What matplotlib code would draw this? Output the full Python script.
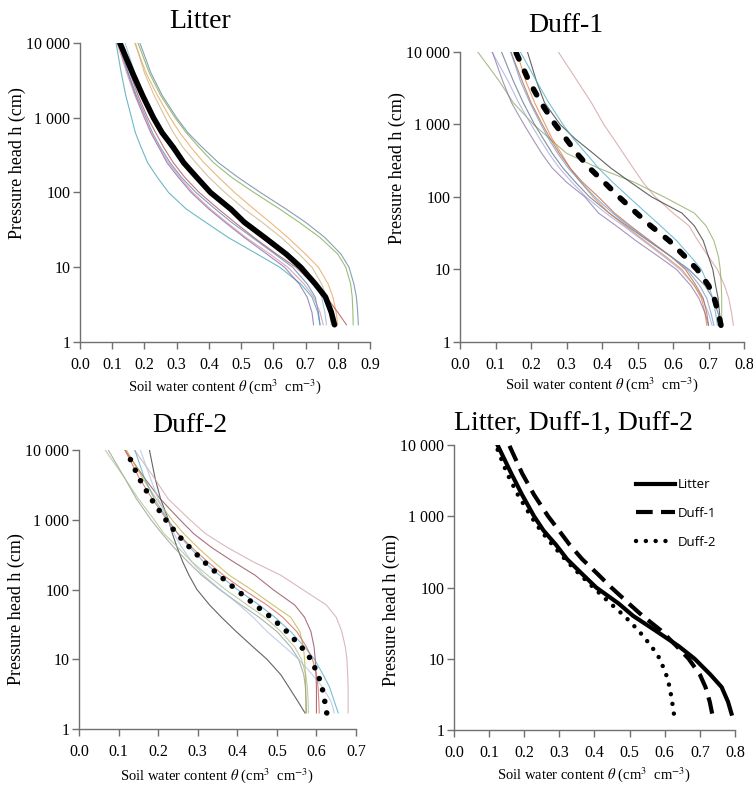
import numpy as np
import matplotlib
matplotlib.use('Agg')
import matplotlib.pyplot as plt

plt.rcParams['font.family'] = ['Liberation Serif', 'DejaVu Serif']
plt.rcParams['mathtext.fontset'] = 'stix'

h = [1.7, 2.5, 4, 6, 10, 15, 25, 40, 60, 100, 160, 250, 400, 630, 1000, 2000, 4000, 10000]

# mean curves
litter_mean = [0.79, 0.78, 0.762, 0.73, 0.685, 0.64, 0.573, 0.51, 0.468, 0.405, 0.362, 0.322,
               0.29, 0.255, 0.228, 0.194, 0.163, 0.124]
duff1_mean = [0.735, 0.728, 0.716, 0.70, 0.668, 0.634, 0.589, 0.537, 0.497, 0.448, 0.406, 0.365,
              0.329, 0.299, 0.268, 0.228, 0.194, 0.157]
duff2_mean = [0.626, 0.621, 0.614, 0.604, 0.586, 0.562, 0.525, 0.485, 0.445, 0.397, 0.354, 0.316,
              0.28, 0.247, 0.219, 0.182, 0.151, 0.119]

# individual samples, litter
litter_teal = [0.745, 0.738, 0.72, 0.685, 0.62, 0.55, 0.46, 0.39, 0.33, 0.275, 0.24, 0.21,
               0.19, 0.172, 0.16, 0.142, 0.128, 0.112]
litter_slate = [0.864, 0.862, 0.858, 0.85, 0.835, 0.81, 0.76, 0.70, 0.64, 0.56, 0.49, 0.43,
                0.38, 0.335, 0.30, 0.255, 0.22, 0.186]
litter_green = [0.848, 0.847, 0.845, 0.84, 0.825, 0.80, 0.745, 0.68, 0.62, 0.54, 0.47, 0.415,
                0.37, 0.33, 0.295, 0.25, 0.215, 0.18]
litter_orange = [0.80, 0.795, 0.785, 0.77, 0.74, 0.70, 0.645, 0.59, 0.54, 0.48, 0.43, 0.385,
                 0.345, 0.31, 0.28, 0.24, 0.205, 0.17]
litter_red = [0.827, 0.80, 0.765, 0.725, 0.67, 0.61, 0.54, 0.48, 0.43, 0.37, 0.325, 0.29,
              0.26, 0.235, 0.21, 0.18, 0.155, 0.12]
litter_purple = [0.725, 0.72, 0.705, 0.68, 0.635, 0.58, 0.51, 0.45, 0.40, 0.345, 0.305, 0.27,
                 0.245, 0.22, 0.20, 0.172, 0.148, 0.118]
litter_blue = [0.745, 0.74, 0.73, 0.705, 0.66, 0.605, 0.535, 0.47, 0.42, 0.36, 0.315, 0.28,
               0.25, 0.225, 0.205, 0.175, 0.15, 0.12]
litter_pink = [0.755, 0.745, 0.725, 0.695, 0.645, 0.59, 0.515, 0.455, 0.405, 0.35, 0.31, 0.275,
               0.245, 0.22, 0.20, 0.17, 0.145, 0.115]
litter_ltblue = [0.765, 0.76, 0.75, 0.73, 0.695, 0.65, 0.585, 0.52, 0.465, 0.40, 0.355, 0.315,
                 0.28, 0.255, 0.23, 0.20, 0.17, 0.14]
litter_tan = [0.78, 0.775, 0.765, 0.75, 0.72, 0.68, 0.625, 0.565, 0.51, 0.45, 0.40, 0.36,
              0.32, 0.29, 0.265, 0.23, 0.20, 0.172]

# individual samples, duff-1
duff1_rose = [0.77, 0.765, 0.757, 0.745, 0.725, 0.70, 0.67, 0.645, 0.60, 0.55, 0.515, 0.488,
              0.46, 0.433, 0.405, 0.37, 0.33, 0.277]
duff1_green = [0.737, 0.737, 0.737, 0.736, 0.733, 0.728, 0.715, 0.693, 0.66, 0.575, 0.49, 0.39,
               0.30, 0.254, 0.207, 0.15, 0.11, 0.05]
duff1_dark = [0.735, 0.731, 0.727, 0.72, 0.712, 0.70, 0.685, 0.66, 0.625, 0.54, 0.48, 0.425,
              0.375, 0.325, 0.282, 0.238, 0.215, 0.19]
duff1_teal = [0.725, 0.72, 0.712, 0.70, 0.68, 0.65, 0.61, 0.565, 0.525, 0.475, 0.43, 0.39,
              0.355, 0.32, 0.29, 0.25, 0.215, 0.17]
duff1_lavender = [0.71, 0.70, 0.683, 0.66, 0.62, 0.575, 0.515, 0.46, 0.41, 0.355, 0.315, 0.28,
                  0.25, 0.225, 0.20, 0.165, 0.135, 0.09]
duff1_slate = [0.735, 0.727, 0.712, 0.69, 0.645, 0.595, 0.53, 0.47, 0.42, 0.365, 0.325, 0.29,
               0.26, 0.235, 0.21, 0.178, 0.15, 0.117]
duff1_orange = [0.695, 0.69, 0.68, 0.66, 0.625, 0.58, 0.52, 0.465, 0.42, 0.375, 0.34, 0.31,
                0.285, 0.26, 0.24, 0.21, 0.185, 0.16]
duff1_brown = [0.70, 0.695, 0.685, 0.665, 0.635, 0.595, 0.535, 0.48, 0.435, 0.39, 0.345, 0.31,
               0.28, 0.255, 0.232, 0.20, 0.175, 0.143]
duff1_blue = [0.715, 0.707, 0.695, 0.675, 0.64, 0.595, 0.53, 0.475, 0.43, 0.38, 0.34, 0.305,
              0.275, 0.25, 0.228, 0.197, 0.17, 0.143]
duff1_purple = [0.70, 0.69, 0.673, 0.65, 0.61, 0.56, 0.495, 0.44, 0.39, 0.352, 0.30, 0.26,
                0.23, 0.205, 0.18, 0.145, 0.12, 0.091]

# individual samples, duff-2
duff2_dark = [0.571, 0.553, 0.53, 0.51, 0.475, 0.44, 0.397, 0.36, 0.33, 0.298, 0.278, 0.262,
              0.248, 0.236, 0.226, 0.206, 0.192, 0.178]
duff2_rose = [0.68, 0.68, 0.68, 0.679, 0.677, 0.673, 0.664, 0.65, 0.625, 0.565, 0.51, 0.44,
              0.375, 0.32, 0.28, 0.225, 0.19, 0.14]
duff2_maroon = [0.60, 0.60, 0.60, 0.599, 0.597, 0.594, 0.586, 0.57, 0.545, 0.49, 0.445, 0.39,
                0.335, 0.29, 0.255, 0.205, 0.165, 0.116]
duff2_olive = [0.573, 0.573, 0.573, 0.572, 0.57, 0.567, 0.558, 0.535, 0.49, 0.435, 0.38, 0.34,
               0.30, 0.265, 0.235, 0.195, 0.16, 0.12]
duff2_gray = [0.575, 0.574, 0.572, 0.568, 0.555, 0.535, 0.50, 0.455, 0.41, 0.355, 0.31, 0.275,
              0.24, 0.21, 0.182, 0.145, 0.115, 0.074]
duff2_ltblue = [0.645, 0.637, 0.615, 0.59, 0.555, 0.52, 0.475, 0.44, 0.405, 0.357, 0.315, 0.285,
                0.26, 0.24, 0.225, 0.20, 0.18, 0.155]
duff2_teal = [0.655, 0.645, 0.633, 0.617, 0.595, 0.57, 0.535, 0.495, 0.455, 0.40, 0.355, 0.315,
              0.28, 0.25, 0.225, 0.19, 0.165, 0.141]
duff2_red = [0.607, 0.606, 0.604, 0.60, 0.59, 0.575, 0.55, 0.515, 0.475, 0.415, 0.365, 0.325,
             0.285, 0.25, 0.222, 0.185, 0.152, 0.116]
duff2_ltgreen = [0.58, 0.579, 0.577, 0.573, 0.562, 0.545, 0.51, 0.47, 0.425, 0.37, 0.325, 0.285,
                 0.25, 0.215, 0.19, 0.15, 0.115, 0.066]

litter_thin = [(litter_teal, '#3f9fb5'), (litter_slate, '#5f7f9f'), (litter_green, '#7aa84a'),
               (litter_orange, '#e8a050'), (litter_red, '#b04848'), (litter_purple, '#8064a2'),
               (litter_blue, '#4f81bd'), (litter_pink, '#d08aa0'), (litter_ltblue, '#8fb4d9'),
               (litter_tan, '#c8b080')]
duff1_thin = [(duff1_rose, '#d49a9a'), (duff1_green, '#8aa860'), (duff1_dark, '#303030'),
              (duff1_teal, '#4bacc6'), (duff1_lavender, '#a0a8d8'), (duff1_slate, '#5a6a8a'),
              (duff1_orange, '#e08040'), (duff1_brown, '#b06040'), (duff1_blue, '#6f95c8'),
              (duff1_purple, '#8a70a8')]
duff2_thin = [(duff2_dark, '#303030'), (duff2_rose, '#d0a0a8'), (duff2_maroon, '#904050'),
              (duff2_olive, '#c0b040'), (duff2_gray, '#909890'), (duff2_ltblue, '#a8c0e0'),
              (duff2_teal, '#4bacc6'), (duff2_red, '#d06050'), (duff2_ltgreen, '#a8c088')]

y_ticks = [1, 10, 100, 1000, 10000]
y_ticklabels = ['1', '10', '100', '1 000', '10 000']
xlabel = r'Soil water content $\theta$ (cm$^{3}$  cm$^{-3}$)'
ylabel = 'Pressure head h (cm)'


def style_axis(ax, xmax, ylab_y, xlab_pad):
    ax.set_yscale('log')
    ax.set_ylim(1, 10000)
    ax.set_xlim(0, xmax)
    xt = np.arange(0, xmax + 0.001, 0.1)
    ax.set_xticks(xt)
    ax.set_xticklabels(['%.1f' % v for v in xt])
    ax.set_yticks(y_ticks)
    ax.set_yticklabels(y_ticklabels)
    ax.yaxis.set_minor_locator(matplotlib.ticker.NullLocator())
    for s in ['top', 'right']:
        ax.spines[s].set_visible(False)
    for s in ['left', 'bottom']:
        ax.spines[s].set_color('#707070')
        ax.spines[s].set_linewidth(1.0)
    ax.tick_params(axis='both', direction='out', length=5, width=1, color='#707070',
                   labelsize=11.5)
    ax.tick_params(axis='x', pad=6)
    ax.tick_params(axis='y', pad=2)
    ax.set_xlabel(xlabel, fontsize=10.5, labelpad=xlab_pad)
    ax.set_ylabel(ylabel, fontsize=13)
    # label sits between tick labels and figure edge, as in the original
    ax.yaxis.set_label_coords(-54 / (ax.get_position().width * 753), ylab_y)


fig = plt.figure(figsize=(7.53, 7.86), dpi=100)
ax1 = fig.add_axes([0.1062, 0.5649, 0.3851, 0.3804])
ax2 = fig.add_axes([0.6109, 0.5649, 0.3772, 0.369])
ax3 = fig.add_axes([0.1049, 0.0725, 0.3679, 0.355])
ax4 = fig.add_axes([0.6029, 0.0712, 0.3732, 0.3626])

for vals, c in litter_thin:
    ax1.plot(vals, h, color=c, lw=0.8, alpha=0.75)
ax1.plot(litter_mean, h, color='black', lw=4, solid_capstyle='round')
style_axis(ax1, 0.9, 0.6, 3)

for vals, c in duff1_thin:
    ax2.plot(vals, h, color=c, lw=0.8, alpha=0.75)
ax2.plot(duff1_mean, h, color='black', lw=4, linestyle=(0, (1.2, 2.4)), dash_capstyle='round')
style_axis(ax2, 0.8, 0.6, 1)

for vals, c in duff2_thin:
    ax3.plot(vals, h, color=c, lw=0.8, alpha=0.75)
ax3.plot(duff2_mean, h, color='black', lw=4, linestyle=(0, (0.01, 2.1)), dash_capstyle='round')
style_axis(ax3, 0.7, 0.43, 4)

ax4.plot(litter_mean, h, color='black', lw=3, label='Litter')
ax4.plot(duff1_mean, h, color='black', lw=3, linestyle=(0, (4, 2)), label='Duff-1')
ax4.plot(duff2_mean, h, color='black', lw=3.2, linestyle=(0, (0.01, 2.2)),
         dash_capstyle='round', label='Duff-2')
style_axis(ax4, 0.8, 0.42, 3)
leg = ax4.legend(loc='upper left', bbox_to_anchor=(0.605, 0.925), frameon=False,
                 handlelength=3.0, handletextpad=0.15, labelspacing=1.2,
                 prop={'family': 'Open Sans', 'size': 9.5})

fig.text(200 / 753, 1 - 22 / 786, 'Litter', fontsize=20, ha='center', va='center')
fig.text(566 / 753, 1 - 25 / 786, 'Duff-1', fontsize=20, ha='center', va='center')
fig.text(190 / 753, 1 - 426 / 786, 'Duff-2', fontsize=20, ha='center', va='center')
fig.text(573 / 753, 1 - 424 / 786, 'Litter, Duff-1, Duff-2', fontsize=20, ha='center', va='center')

fig.savefig('out.png', dpi=100)
